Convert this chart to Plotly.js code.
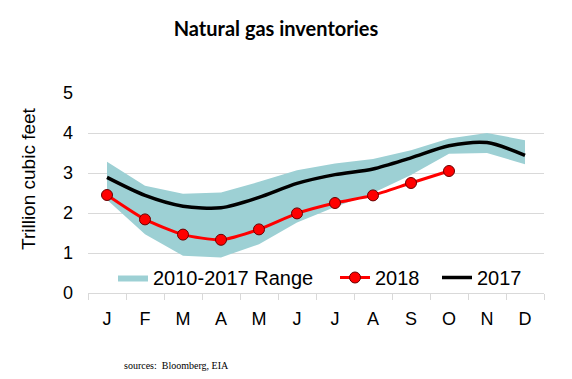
<!DOCTYPE html>
<html>
<head>
<meta charset="utf-8">
<script src="https://cdn.plot.ly/plotly-3.0.1.min.js"></script>
<style>html,body{margin:0;padding:0;background:#fff;}#chart{width:572px;height:379px;}</style>
</head>
<body>
<div id="chart"></div>
<script>
const months = ['J','F','M','A','M','J','J','A','S','O','N','D'];
const monthIndex = [0,1,2,3,4,5,6,7,8,9,10,11];
const rangeLow = [2.33, 1.47, 0.93, 0.89, 1.22, 1.76, 2.15, 2.5, 2.95, 3.48, 3.5, 3.22];
const rangeHigh = [3.28, 2.68, 2.48, 2.51, 2.78, 3.07, 3.24, 3.35, 3.57, 3.86, 4.0, 3.82];
const y2017 = [2.89, 2.44, 2.17, 2.13, 2.39, 2.74, 2.96, 3.1, 3.38, 3.68, 3.76, 3.44];
const y2018 = [2.45, 1.84, 1.46, 1.33, 1.59, 1.99, 2.25, 2.44, 2.75, 3.05];
const yTicks = [0,1,2,3,4,5];
const boundaries = [-0.5,0.5,1.5,2.5,3.5,4.5,5.5,6.5,7.5,8.5,9.5,10.5,11.5];

const band = '#9dd0d4';
const traces = [
  {x: monthIndex, y: rangeLow, type:'scatter', mode:'lines', line:{width:0, color:band}, showlegend:false, hoverinfo:'skip'},
  {x: monthIndex, y: rangeHigh, type:'scatter', mode:'lines', fill:'tonexty', fillcolor:band, line:{width:0, color:band}, name:'2010-2017 Range', legend:'legend'},
  {x: monthIndex.slice(0, y2018.length), y: y2018, type:'scatter', mode:'lines+markers', name:'2018', legend:'legend2',
   line:{color:'#ff0000', width:3, shape:'spline', smoothing:0.6},
   marker:{size:11, color:'#ff0000', line:{color:'#6a0000', width:1}}},
  {x: monthIndex, y: y2017, type:'scatter', mode:'lines', name:'2017', legend:'legend3',
   line:{color:'#000000', width:3.5, shape:'spline', smoothing:0.8}}
];

const px = v => (v-88)/456;
const py = v => (293-v)/200;
const legFont = {size:20, family:'Arial, Liberation Sans, sans-serif', color:'#000'};
function leg(xpx){
  return {orientation:'h', x:px(xpx), y:py(277.5), yanchor:'middle', xanchor:'left',
          font:legFont, bgcolor:'rgba(0,0,0,0)', itemwidth:30};
}

const layout = {
  width:572, height:379,
  margin:{l:88, r:28, t:93, b:86},
  paper_bgcolor:'#ffffff', plot_bgcolor:'#ffffff',
  font:{family:'Arial, Liberation Sans, sans-serif', color:'#000000', size:18},
  showlegend:true,
  legend:leg(113), legend2:leg(335), legend3:leg(437),
  xaxis:{range:[-0.5,11.5], tickmode:'array', tickvals:monthIndex, ticktext:months,
         showgrid:false, zeroline:false, showline:true, linecolor:'#d9d9d9', linewidth:1,
         ticks:'outside', ticklen:9, tickcolor:'rgba(0,0,0,0)',
         minor:{tickmode:'array', tickvals:boundaries, ticks:'outside', ticklen:6, tickcolor:'#d9d9d9', showgrid:false},
         tickfont:{size:18}, fixedrange:true},
  yaxis:{range:[0,5], tickmode:'array', tickvals:yTicks, showgrid:true, gridcolor:'#d9d9d9', gridwidth:1,
         zeroline:false, showline:false, ticks:'', ticklabelstandoff:14, tickfont:{size:18}, fixedrange:true},
  title:{text:'Natural gas inventories', font:{family:'Lato, Open Sans, sans-serif', size:20, weight:700, color:'#000'},
         x:276/572, xanchor:'center', xref:'container', y:1-29/379, yanchor:'middle', yref:'container'},
  annotations:[
    {text:'Trillion cubic feet', textangle:-90, xref:'paper', yref:'paper', x:px(28), xanchor:'center',
     y:py(179), yanchor:'middle', showarrow:false, font:{size:19, color:'#000'}},
    {text:'sources:  Bloomberg, EIA', xref:'paper', yref:'paper', x:px(121.7), xanchor:'left',
     y:py(365), yanchor:'middle', showarrow:false, font:{family:'Liberation Serif, Times New Roman, serif', size:10, color:'#000'}}
  ]
};

Plotly.newPlot('chart', traces, layout, {displayModeBar:false, staticPlot:true});
</script>
</body>
</html>
